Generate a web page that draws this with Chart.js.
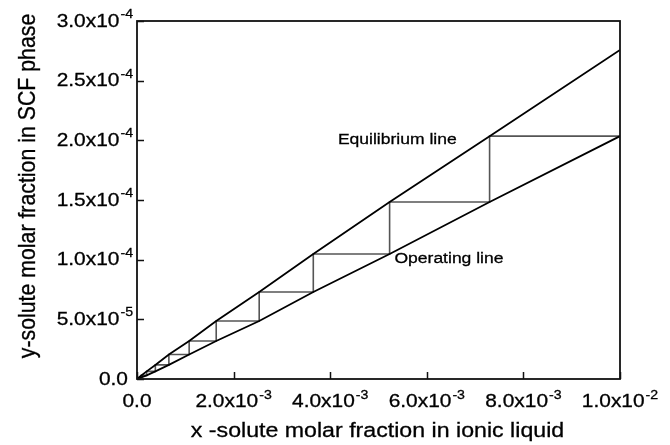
<!DOCTYPE html>
<html>
<head>
<meta charset="utf-8">
<script src="https://cdn.jsdelivr.net/npm/chart.js@4.4.1/dist/chart.umd.min.js"></script>
<style>
  html, body { margin: 0; padding: 0; background: #ffffff; }
  #wrap { width: 670px; height: 445px; }
</style>
</head>
<body>
<div id="wrap"><canvas id="c" width="670" height="445"></canvas></div>
<script>
// ---- data ----
const xTickValues   = [0, 0.002, 0.004, 0.006, 0.008, 0.01];
const xTickMantissa = ["0.0", "2.0x10", "4.0x10", "6.0x10", "8.0x10", "1.0x10"];
const xTickExponent = ["", "-3", "-3", "-3", "-3", "-2"];

const yTickValues   = [0, 5e-5, 1e-4, 1.5e-4, 2e-4, 2.5e-4, 3e-4];
const yTickMantissa = ["0.0", "5.0x10", "1.0x10", "1.5x10", "2.0x10", "2.5x10", "3.0x10"];
const yTickExponent = ["", "-5", "-4", "-4", "-4", "-4", "-4"];

// stage corners on the equilibrium line (x, y); stageY has one extra value: bottom of last step
const stageX = [7.30e-3, 5.23e-3, 3.65e-3, 2.53e-3, 1.64e-3, 1.08e-3, 0.66e-3, 0.38e-3, 0.20e-3, 0.09e-3];
const stageY = [2.035e-4, 1.483e-4, 1.047e-4, 0.729e-4, 0.486e-4, 0.318e-4, 0.205e-4, 0.118e-4, 0.064e-4, 0.030e-4, 0.014e-4];

const xMax = 0.01;
const yMax = 3e-4;
const equilibriumEndY = 2.758e-4;   // equilibrium line value at x = 0.01
const operatingEndY   = 2.035e-4;   // operating line value at x = 0.01

const xTitle = "x -solute molar fraction in ionic liquid";
const yTitle = "y-solute molar fraction in SCF phase";
const eqLabel = "Equilibrium line";
const opLabel = "Operating line";

// ---- build point lists from the arrays ----
const eqPts = [{x: 0, y: 0}];
for (let i = stageX.length - 1; i >= 0; i--) eqPts.push({x: stageX[i], y: stageY[i]});
eqPts.push({x: xMax, y: equilibriumEndY});

const opPts = [{x: 0, y: 0}];
for (let i = stageX.length - 1; i >= 0; i--) opPts.push({x: stageX[i], y: stageY[i + 1]});
opPts.push({x: xMax, y: operatingEndY});

const stairPts = [{x: xMax, y: operatingEndY}];
for (let i = 0; i < stageX.length; i++) {
  stairPts.push({x: stageX[i], y: stageY[i]});
  stairPts.push({x: stageX[i], y: stageY[i + 1]});
}

const FONT = '"Liberation Sans", Arial, Helvetica, sans-serif';
const SX = 1.13; // horizontal stretch of the reference text

function stretchedText(ctx, text, x, y, size, align) {
  ctx.save();
  ctx.font = size + 'px ' + FONT;
  ctx.textAlign = align;
  ctx.textBaseline = 'alphabetic';
  ctx.translate(x, y);
  ctx.scale(SX, 1);
  ctx.fillText(text, 0, 0);
  ctx.lineWidth = 0.3;
  ctx.strokeStyle = '#000';
  ctx.strokeText(text, 0, 0);
  ctx.restore();
}
function textW(ctx, text, size) {
  ctx.save();
  ctx.font = size + 'px ' + FONT;
  const w = ctx.measureText(text).width * SX;
  ctx.restore();
  return w;
}

const TICK_SIZE = 18.5, EXP_SIZE = 12.5, TICK_LEN = 7;

const decor = {
  id: 'decor',
  afterDraw(chart) {
    const ctx = chart.ctx;
    const a = chart.chartArea;
    const xs = chart.scales.x, ys = chart.scales.y;
    ctx.save();
    ctx.fillStyle = '#000';
    ctx.strokeStyle = '#111';
    // frame
    ctx.lineWidth = 1.8;
    ctx.strokeRect(a.left, a.top, a.right - a.left, a.bottom - a.top);
    // inward ticks
    ctx.lineWidth = 1.5;
    ctx.beginPath();
    xTickValues.forEach(v => {
      const px = Math.round(xs.getPixelForValue(v)) + 0.5;
      ctx.moveTo(px, a.bottom); ctx.lineTo(px, a.bottom - TICK_LEN);
    });
    yTickValues.forEach(v => {
      const py = Math.round(ys.getPixelForValue(v)) + 0.5;
      ctx.moveTo(a.left, py); ctx.lineTo(a.left + TICK_LEN, py);
    });
    ctx.stroke();

    // x tick labels
    xTickValues.forEach((v, i) => {
      const px = xs.getPixelForValue(v);
      const m = xTickMantissa[i], e = xTickExponent[i];
      const wm = textW(ctx, m, TICK_SIZE);
      const we = e ? textW(ctx, e, EXP_SIZE) + 1 : 0;
      const start = px - (wm + we) / 2;
      const base = a.bottom + 28;
      stretchedText(ctx, m, start, base, TICK_SIZE, 'left');
      if (e) stretchedText(ctx, e, start + wm + 1, base - 8.5, EXP_SIZE, 'left');
    });
    // y tick labels
    yTickValues.forEach((v, i) => {
      const py = ys.getPixelForValue(v);
      const m = yTickMantissa[i], e = yTickExponent[i];
      const wm = textW(ctx, m, TICK_SIZE);
      const we = e ? textW(ctx, e, EXP_SIZE) + 1 : 0;
      const end = e ? a.left - 4 : a.left - 9;
      const start = end - wm - we;
      const base = py + 5.5;
      stretchedText(ctx, m, start, base, TICK_SIZE, 'left');
      if (e) stretchedText(ctx, e, start + wm + 1, base - 8.5, EXP_SIZE, 'left');
    });

    // axis titles
    stretchedText(ctx, xTitle, (a.left + a.right) / 2 - 1, 437, 20.5, 'center');
    ctx.save();
    ctx.translate(35, (a.top + a.bottom) / 2 - 14);
    ctx.scale(SX, 1);
    ctx.rotate(-Math.PI / 2);
    ctx.font = '21.3px ' + FONT;
    ctx.textAlign = 'center';
    ctx.textBaseline = 'alphabetic';
    ctx.fillText(yTitle, 0, 0);
    ctx.lineWidth = 0.3;
    ctx.strokeStyle = '#000';
    ctx.strokeText(yTitle, 0, 0);
    ctx.restore();

    // line annotations (placed in data coordinates)
    stretchedText(ctx, eqLabel, xs.getPixelForValue(4.16e-3), ys.getPixelForValue(1.97e-4), 15.5, 'left');
    stretchedText(ctx, opLabel, xs.getPixelForValue(5.33e-3), ys.getPixelForValue(0.97e-4), 15.5, 'left');
    ctx.restore();
  }
};

new Chart(document.getElementById('c'), {
  type: 'scatter',
  data: {
    datasets: [
      { label: 'Equilibrium line', data: eqPts, showLine: true, borderColor: '#000', borderWidth: 1.8, pointRadius: 0, tension: 0, fill: false },
      { label: 'Operating line', data: opPts, showLine: true, borderColor: '#000', borderWidth: 1.8, pointRadius: 0, tension: 0, fill: false },
      { label: 'Stages', data: stairPts, showLine: true, borderColor: '#555', borderWidth: 1.6, pointRadius: 0, tension: 0, fill: false }
    ]
  },
  options: {
    responsive: false,
    devicePixelRatio: 1,
    animation: false,
    events: [],
    layout: { padding: { top: 21, right: 50, left: 0, bottom: 0 } },
    plugins: { legend: { display: false }, tooltip: { enabled: false }, title: { display: false } },
    scales: {
      x: {
        type: 'linear', min: 0, max: xMax,
        grid: { display: false }, border: { display: false },
        ticks: { display: false },
        afterFit: s => { s.height = 66; }
      },
      y: {
        type: 'linear', min: 0, max: yMax,
        grid: { display: false }, border: { display: false },
        ticks: { display: false },
        afterFit: s => { s.width = 137; }
      }
    }
  },
  plugins: [decor]
});
</script>
</body>
</html>
